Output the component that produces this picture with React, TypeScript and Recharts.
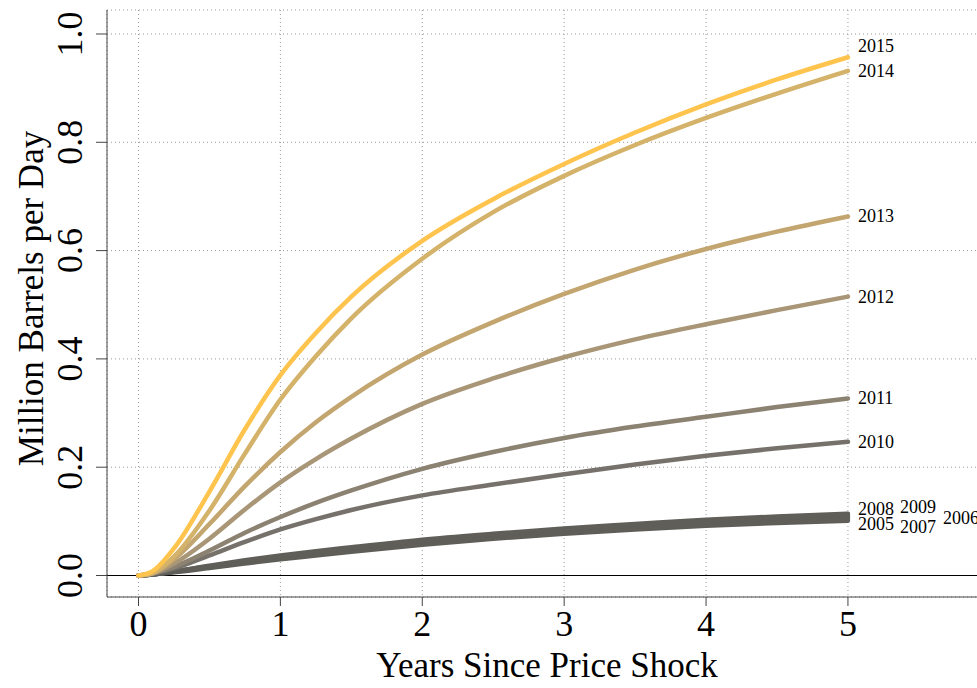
import { LineChart, Line, XAxis, YAxis, CartesianGrid, ReferenceLine } from "recharts";

// years since price shock
const T = [0, 0.1, 0.25, 0.5, 0.75, 1, 1.25, 1.5, 2, 2.5, 3, 3.5, 4, 4.5, 5];

const Y2005 = [0, 0.002, 0.006, 0.014, 0.022, 0.030, 0.037, 0.044, 0.057, 0.068, 0.077, 0.085, 0.092, 0.097, 0.101];
const Y2006 = [0, 0.002, 0.007, 0.016, 0.025, 0.033, 0.040, 0.047, 0.061, 0.072, 0.081, 0.089, 0.096, 0.102, 0.107];
const Y2007 = [0, 0.002, 0.007, 0.015, 0.024, 0.032, 0.039, 0.046, 0.059, 0.070, 0.079, 0.087, 0.094, 0.099, 0.103];
const Y2008 = [0, 0.002, 0.008, 0.017, 0.027, 0.035, 0.043, 0.050, 0.064, 0.075, 0.084, 0.093, 0.100, 0.106, 0.111];
const Y2009 = [0, 0.003, 0.008, 0.018, 0.028, 0.037, 0.045, 0.052, 0.066, 0.077, 0.087, 0.095, 0.103, 0.109, 0.114];
const Y2010 = [0, 0.003, 0.013, 0.037, 0.062, 0.085, 0.104, 0.121, 0.148, 0.168, 0.187, 0.205, 0.221, 0.235, 0.247];
const Y2011 = [0, 0.004, 0.016, 0.046, 0.079, 0.108, 0.134, 0.157, 0.197, 0.228, 0.254, 0.275, 0.293, 0.311, 0.327];
const Y2012 = [0, 0.004, 0.022, 0.068, 0.122, 0.172, 0.215, 0.253, 0.317, 0.364, 0.403, 0.436, 0.464, 0.490, 0.515];
const Y2013 = [0, 0.004, 0.030, 0.095, 0.165, 0.228, 0.283, 0.330, 0.408, 0.468, 0.520, 0.565, 0.603, 0.635, 0.663];
const Y2014 = [0, 0.005, 0.035, 0.120, 0.225, 0.325, 0.405, 0.475, 0.585, 0.671, 0.738, 0.795, 0.845, 0.890, 0.932];
const Y2015 = [0, 0.008, 0.050, 0.155, 0.270, 0.370, 0.448, 0.515, 0.618, 0.695, 0.760, 0.818, 0.870, 0.916, 0.957];

const X_TICKS = [0, 1, 2, 3, 4, 5];
const Y_TICKS = [0, 0.2, 0.4, 0.6, 0.8, 1.0];

const SERIES = [
  { key: "y2005", label: "2005", color: "#5f5e59", values: Y2005 },
  { key: "y2006", label: "2006", color: "#5f5e59", values: Y2006 },
  { key: "y2007", label: "2007", color: "#5f5e59", values: Y2007 },
  { key: "y2008", label: "2008", color: "#5f5e59", values: Y2008 },
  { key: "y2009", label: "2009", color: "#5f5e59", values: Y2009 },
  { key: "y2010", label: "2010", color: "#76726b", values: Y2010 },
  { key: "y2011", label: "2011", color: "#8b8272", values: Y2011 },
  { key: "y2012", label: "2012", color: "#a89677", values: Y2012 },
  { key: "y2013", label: "2013", color: "#c3a56f", values: Y2013 },
  { key: "y2014", label: "2014", color: "#d4b26a", values: Y2014 },
  { key: "y2015", label: "2015", color: "#ffc44d", values: Y2015 },
];

// where each year's label sits relative to the line end
const NUDGE: Record<string, [number, number]> = {
  "2005": [10, 3],
  "2006": [95, 0],
  "2007": [52, 7],
  "2008": [10, -6],
  "2009": [52, -7],
  "2015": [10, -11],
};

const data = T.map((t, i) => {
  const row: Record<string, number> = { t };
  SERIES.forEach((s) => (row[s.key] = s.values[i]));
  return row;
});

const FONT = "'Liberation Serif', 'Times New Roman', serif";
const FRAME = "#444";

function YTick({ x, y, payload }: any) {
  return (
    <text
      x={x - 12}
      y={y}
      transform={`rotate(-90 ${x - 12} ${y})`}
      textAnchor="middle"
      fontSize={36}
      fontFamily={FONT}
      fill="#000"
    >
      {payload.value.toFixed(1)}
    </text>
  );
}

function endLabel(label: string, last: number) {
  return (p: any) => {
    if (p.index !== last) return null;
    const [dx, dy] = NUDGE[label] ?? [10, 0];
    return (
      <text
        key={label}
        x={p.x + dx}
        y={p.y + dy}
        dominantBaseline="central"
        fontSize={18}
        fontFamily={FONT}
        fill="#000"
      >
        {label}
      </text>
    );
  };
}

export default function App() {
  return (
    <div
      style={{
        position: "absolute",
        top: 0,
        left: 0,
        width: 977,
        height: 688,
        overflow: "hidden",
        background: "#fff",
      }}
    >
      <LineChart width={990} height={688} data={data} margin={{ top: 10, right: 3, left: 10, bottom: 0 }}>
        <CartesianGrid stroke="#999" strokeDasharray="1 3" />
        <XAxis
          dataKey="t"
          type="number"
          domain={[-0.222, 5.98]}
          ticks={X_TICKS}
          allowDataOverflow
          height={91}
          tickSize={9}
          tickMargin={4}
          stroke={FRAME}
          tick={{ fontSize: 36, fontFamily: FONT, fill: "#000" }}
          label={{
            content: ({ viewBox }: any) => (
              <text
                x={viewBox.x + viewBox.width / 2}
                y={677}
                textAnchor="middle"
                fontSize={35}
                fontFamily={FONT}
                fill="#000"
              >
                Years Since Price Shock
              </text>
            ),
          }}
        />
        <XAxis
          xAxisId="top"
          orientation="top"
          type="number"
          domain={[-0.222, 5.98]}
          height={0}
          tick={false}
          tickLine={false}
          stroke={FRAME}
        />
        <YAxis
          type="number"
          domain={[-0.0397, 1.0443]}
          ticks={Y_TICKS}
          allowDataOverflow
          width={97}
          tickSize={11}
          stroke={FRAME}
          tick={<YTick />}
          label={{
            content: ({ viewBox }: any) => (
              <text
                x={43}
                y={viewBox.y + viewBox.height / 2 - 5}
                transform={`rotate(-90 43 ${viewBox.y + viewBox.height / 2 - 5})`}
                textAnchor="middle"
                fontSize={35}
                fontFamily={FONT}
                fill="#000"
              >
                Million Barrels per Day
              </text>
            ),
          }}
        />
        <ReferenceLine y={0} stroke="#000" strokeWidth={1} />
        {SERIES.map((s) => (
          <Line
            key={s.key}
            type="monotone"
            dataKey={s.key}
            stroke={s.color}
            strokeWidth={4.5}
            strokeLinecap="round"
            dot={false}
            isAnimationActive={false}
            label={endLabel(s.label, T.length - 1)}
          />
        ))}
      </LineChart>
    </div>
  );
}
